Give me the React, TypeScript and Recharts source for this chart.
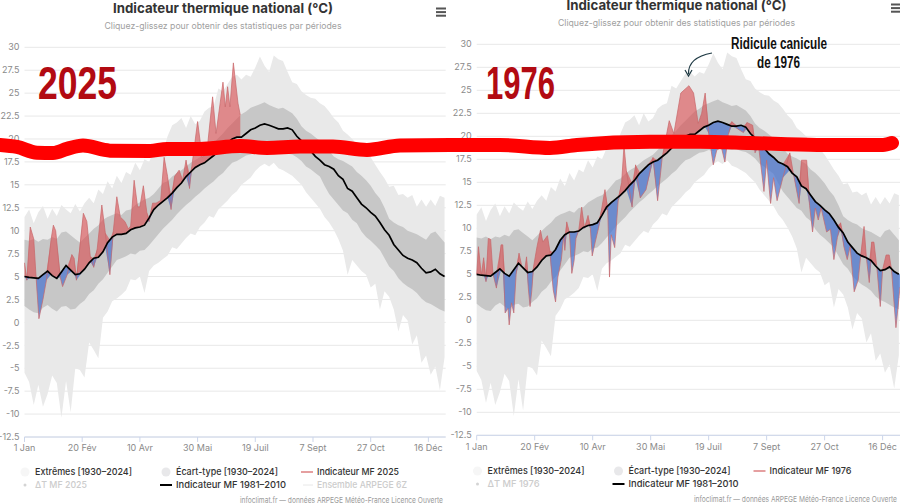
import React from "react";
import { ComposedChart, LineChart, Area, Line, XAxis, YAxis, CartesianGrid } from "recharts";

const bandDays = [0,4,8,12,16,20,24,28,32,36,40,44,48,52,56,60,64,68,72,76,80,84,88,92,96,100,104,108,112,116,120,124,128,132,136,140,144,148,152,156,160,164,168,172,176,180,184,188,192,196,200,204,208,212,216,220,224,228,232,236,240,244,248,252,256,260,264,268,272,276,280,284,288,292,296,300,304,308,312,316,320,324,328,332,336,340,344,348,352,356,360,364];
const extHigh = [11.5,12.3,10.8,12,12.7,11.3,12.4,11.6,12.8,12.3,11.9,12.9,12.1,13,13.6,13,14.5,14,15.4,14.6,16,15.2,16.4,16.1,17.4,16.6,17.8,17.5,18.7,19.2,18.6,20.3,21.5,21.8,22.3,21.2,22.5,21.6,22,23,23.4,23.6,25.5,25.2,26,26.8,27,26.5,27,26.8,27.8,29,28,27.3,29.1,28.7,28.5,27.3,26.2,26,25.2,24.8,24.5,24.4,23.9,23.6,23,22.3,21.8,20.9,20.5,20,19.4,18.9,18.6,18,17.2,16.4,15.7,14.8,14.9,13.9,14,13.6,13.9,12.6,13.4,12.6,13.4,12.7,13.8,13.6];
const extLow = [-5.5,-6.5,-9,-6.8,-9.2,-7.8,-5.8,-6.6,-10.4,-6.4,-9.8,-5,-5.2,-6,-2.2,-3,-3.9,0.5,1.2,2.3,2.6,3,3.5,4.7,4.6,5,3.2,5.6,6.2,6.5,6.9,7.3,8.2,8,8.6,9.2,9.7,9.5,10.4,10.9,11.6,11.4,12.3,12.8,13.3,13.9,14.3,15,15.4,15.8,16.5,17,17.3,17,17.4,16.8,16.6,16.3,16,15.5,15,14.2,13.6,13,12.4,11.5,10.9,10.1,9.1,7.8,5.2,6.8,6.2,5.6,5.2,3.8,4.2,1.4,3.4,2.8,1.4,-1,0.8,0.2,-2.4,-1.4,-4.4,-3.6,-5.7,-4.8,-7.4,-3.8];
const stdHigh = [9,8.9,9.1,8.8,9.1,9,9.3,9.1,9.8,9.9,9.5,9.1,8.7,9.2,9.7,10.2,10.6,11.2,11.5,11.7,11.9,11.7,12.2,12.3,12.8,13.1,13.4,13.6,14,14.6,15.2,15.4,15.9,16.3,16.6,17,17.4,17.7,18,18.5,19,19.6,20.1,20.6,21.2,21.7,22.2,22.7,23,23.4,23.6,23.8,24,23.7,23.5,23.3,23.4,23.1,22.8,22.2,21.4,20.9,20.6,20.2,19.8,19.3,18.7,18.1,17.8,17.6,17.3,17,16.4,16,15.5,14.9,14.1,13.5,12.5,11.3,10.9,10.6,10.4,10,9.8,9.6,9.3,9,9.7,9.9,9.3,8.7];
const stdLow = [1.8,1.4,1.1,1,1.6,1.9,1.5,1.2,1.7,1.8,1.4,1.5,2,2.4,3.1,3.5,4.2,4.7,5.4,6.1,6.8,7,7.2,7.5,7.4,7.8,7.9,8.4,9,9.6,10.2,10.7,11.2,11.8,12.3,12.8,13.2,13.7,14.1,14.6,15,15.4,15.9,16.3,16.9,17.4,17.6,17.9,18.2,18.3,18.5,18.4,18.7,18.5,18.6,18.5,18.6,18.4,18.3,18,17.6,17,16.7,16.3,15.9,14.9,14,13.4,12.8,12.2,11.9,11.2,10.8,9.9,9.3,8.9,8.4,7.9,7,6.1,5.6,4.8,4.3,3.9,3.6,3.2,2.6,2.2,2,1.7,1.4,1.2];
const normal8110 = [5,4.9,4.85,4.8,5.2,5.6,5.1,4.8,5.5,6.2,5.7,5.2,5.3,5.8,6.5,7,7.1,7.7,8.7,9.3,9.6,9.6,9.7,10.1,10.3,10.4,10.6,11.4,12.3,12.8,13.2,13.6,14.1,14.7,15.2,15.9,16.4,16.9,17.2,17.4,17.8,18.2,18.7,19.2,19.6,20,20.2,20.2,20.6,21,21.2,21.5,21.65,21.5,21.3,21.1,21.1,21.2,21,20.3,19.8,19.2,18.7,18.1,17.7,17.2,17,16.7,16,15.6,14.6,14.3,13.6,12.9,12.5,12,11.6,10.9,10.1,9.5,8.5,7.9,7.3,7,6.8,6.5,5.9,5.4,5.5,5.8,5.3,5];

const days2025 = [0,2,5,8,10,12.5,16,19,23,25,27,31,33,37,41,43,45,51,54,57,60,63,67,70,74,77,80,83,87,90,92,95,98,100,103,106,108,111,114,118,121,124,127,130,134,137,140,143,145,150,154,158,163,166,172,174,176,178,181,185,187];
const obs2025 = [6.5,4.6,10.4,9.1,5,0.4,2.5,4.6,9,10.6,10,4.9,3.9,5.2,7.4,7,4.6,11.9,11,7.2,6,8,12.8,9.8,5.2,10,13.7,11.5,11,10.2,10.5,15.5,12.6,12.6,14.9,12,11,13,13,13.3,18,15.9,12.3,15.9,16.6,15.5,17.7,14.6,17,21.9,18,18.5,24.6,20.6,26.2,23.5,25.7,23.5,28.3,23.9,22.6];

const days1976 = [0,1.5,4,6,8,10,12,14,17,21,22.5,24.5,27,28,30,32,34,36.5,39,41.5,43,44.5,46,47.5,49,52,55,57,61,63,66,68,70,73,75,76,77.6,80,82,84,85.6,88,90.5,93,96,98,99.6,102,105,108,110.6,113,114.5,116,119,122,125,127,129,134,137,141,146,152,156,160,166,170,176,183,187,191,194,197,200,204,207,211,214,217,220,225,230,233,238,240,243,247.7,250,253.4,256,259,264,270,273,278,280,284.5,287,289.6,292,294.5,297,301.7,305,308,311,313.8,316.6,319.5,322,325.5,329,331,334,336,338.5,340.5,342.5,345,348,350,353,355.7,357.7,361.5,365];
const obs1976 = [5,8,4.9,6.8,4.2,8.9,8.8,5.1,3.5,8.2,8.2,0.8,1.3,-0.5,1.9,0.8,5,7.3,5.8,5.6,6.9,3.5,1.5,3.2,5.8,8,9.8,8.5,9.2,7.6,3.3,2,4.7,6.6,9.2,7.6,10.7,9.5,5.1,6.5,8.9,9.8,12.3,10,11.4,10,7,8.4,10,12.3,14.2,12,4.7,9.3,7.9,13,15,19,16.3,12.3,16.9,13.3,14.2,17.7,13,17.7,21.7,20.3,24.7,25.5,24.7,21.4,22.5,24.7,20.3,16.9,18.5,18.8,17.2,20.2,21.6,20.8,20.4,21.5,21.2,18.2,19,14,17.4,12.7,15.5,13,15.5,18.2,16,12.7,17.4,17.4,12.5,9.6,12.2,10.9,12.2,9.6,9.9,6.6,9,10.6,8,6.6,8,3.1,4.4,6.9,10.2,6.8,4.1,8.5,8.5,5.8,1.5,5.5,7.1,7.1,5.5,-0.8,3.6];

const xTicks = [0, 50, 100, 150, 200, 250, 300, 350];
const xTickLabels = ["1 Jan", "20 Fév", "10 Avr", "30 Mai", "19 Juil", "7 Sept", "27 Oct", "16 Déc"];
const yTicks = [-12.5, -10, -7.5, -5, -2.5, 0, 2.5, 5, 7.5, 10, 12.5, 15, 17.5, 20, 22.5, 25, 27.5, 30];

const strokePageX = [0, 17, 37, 53, 67, 83, 110, 150, 167, 200, 240, 267, 300, 333, 367, 400, 450, 500, 550, 577, 650, 700, 750, 817, 883, 892];
const strokeTemp = [19.35, 19.13, 18.51, 18.48, 18.92, 19.28, 18.73, 18.7, 18.92, 18.92, 19.24, 19.03, 19.17, 19.17, 18.81, 19.28, 19.35, 19.35, 19.03, 19.35, 19.71, 19.71, 19.57, 19.35, 19.35, 19.57];

const bandRows = bandDays.map((day, i) => ({
  day,
  ext: [extLow[i], extHigh[i]],
  std: [stdLow[i], stdHigh[i]],
  normal: normal8110[i],
}));

function normalAt(day: number) {
  const k = Math.min(Math.floor(day / 4), bandDays.length - 2);
  const t = Math.min((day - bandDays[k]) / 4, 1);
  return normal8110[k] + (normal8110[k + 1] - normal8110[k]) * t;
}

function deltaRows(days: number[], obs: number[]) {
  return days.map((day, i) => {
    const n = normalAt(day);
    return { day, obs: obs[i], warm: [n, Math.max(obs[i], n)], cold: [Math.min(obs[i], n), n] };
  });
}

const FONT = "Inter, Roboto, sans-serif";
const tickStyle = { fill: "#8a8a8a", fontSize: 9, fontFamily: FONT };

function Panel({ left, width, top, bottom, mLeft, mRight, rows }: any) {
  return (
    <div style={{ position: "absolute", left, top: 0, width, height: 504 }}>
      <ComposedChart width={width} height={504} data={bandRows} margin={{ top, bottom, left: mLeft, right: mRight }}>
        <CartesianGrid vertical={false} stroke="#e8e8e8" strokeWidth={1} />
        <XAxis
          dataKey="day"
          type="number"
          domain={[0, 365]}
          ticks={xTicks}
          interval={0}
          tickFormatter={(v: number) => xTickLabels[xTicks.indexOf(v)]}
          tick={tickStyle}
          tickSize={5}
          tickMargin={3}
          stroke="#ccd6eb"
          height={25}
        />
        <YAxis
          type="number"
          domain={[-12.5, 30]}
          ticks={yTicks}
          interval={0}
          tickFormatter={(v: number) => String(v)}
          tick={tickStyle}
          axisLine={false}
          tickLine={false}
          tickMargin={5}
          tickSize={0}
          width={24}
        />
        <Area dataKey="ext" type="linear" fill="#e9e9e9" fillOpacity={1} stroke="none" isAnimationActive={false} dot={false} activeDot={false} />
        <Area dataKey="std" type="linear" fill="#c7c7c7" fillOpacity={1} stroke="none" isAnimationActive={false} dot={false} activeDot={false} />
        <Area data={rows} dataKey="warm" type="linear" fill="#d84a4c" fillOpacity={0.6} stroke="none" isAnimationActive={false} dot={false} activeDot={false} />
        <Area data={rows} dataKey="cold" type="linear" fill="#4a74d0" fillOpacity={0.72} stroke="none" isAnimationActive={false} dot={false} activeDot={false} />
        <Line data={rows} dataKey="obs" type="linear" stroke="#c8666a" strokeOpacity={0.7} strokeWidth={1} dot={false} activeDot={false} isAnimationActive={false} />
        <Line dataKey="normal" type="linear" stroke="#000000" strokeWidth={1.7} dot={false} activeDot={false} isAnimationActive={false} />
      </ComposedChart>
    </div>
  );
}

function Label({ x, y, children, fill = "#333", size = 9.5, weight = 500, anchor = "start", len }: any) {
  return (
    <text x={x} y={y} fill={fill} fontSize={size} fontWeight={weight} fontFamily={FONT} textAnchor={anchor} textLength={len} lengthAdjust="spacingAndGlyphs">
      {children}
    </text>
  );
}

function Decor({ dx, yTitle, yLegend, year, hasEnsemble }: any) {
  const cx = dx === 0 ? 223 : 676.5;
  const y1 = yLegend;
  const y2 = yLegend + 13;
  return (
    <g>
      <Label x={cx} y={yTitle} size={13.5} weight={700} anchor="middle" len={220}>Indicateur thermique national (°C)</Label>
      <Label x={cx} y={yTitle + 16} size={9} weight={400} fill="#a0a0a0" anchor="middle" len={237}>Cliquez-glissez pour obtenir des statistiques par périodes</Label>
      <circle cx={dx + 25} cy={y1 - 3} r={4.5} fill="#f6f6f6" />
      <Label x={dx + 35} y={y1} len={97}>Extrêmes [1930–2024]</Label>
      <circle cx={dx + 166} cy={y1 - 3} r={4.5} fill="#e8e8ea" />
      <Label x={dx + 176} y={y1} len={102}>Écart-type [1930–2024]</Label>
      <line x1={dx + 301} x2={dx + 313} y1={y1 - 3} y2={y1 - 3} stroke="#dc7f80" strokeWidth={1.5} />
      <Label x={dx + 317} y={y1} len={82}>{`Indicateur MF ${year}`}</Label>
      <circle cx={dx + 25} cy={y2 - 3} r={1.5} fill="#d4d4d4" />
      <Label x={dx + 35} y={y2} fill="#cccccc" len={52}>{`ΔT MF ${year}`}</Label>
      <line x1={dx + 160} x2={dx + 172} y1={y2 - 3} y2={y2 - 3} stroke="#000" strokeWidth={2} />
      <Label x={dx + 176} y={y2} len={110}>Indicateur MF 1981–2010</Label>
      {hasEnsemble && <line x1={dx + 303} x2={dx + 313} y1={y2 - 3} y2={y2 - 3} stroke="#e8e8e8" strokeWidth={1} />}
      {hasEnsemble && <Label x={dx + 317} y={y2} fill="#cccccc" len={90}>Ensemble ARPEGE 6Z</Label>}
    </g>
  );
}

function Burger({ x, y, w }: any) {
  return (
    <g fill="#555">
      <rect x={x} y={y} width={w} height={2} />
      <rect x={x} y={y + 3.6} width={w} height={2} />
      <rect x={x} y={y + 7.2} width={w} height={2} />
    </g>
  );
}

const strokeRows = strokePageX.map((x, i) => ({ x, t: strokeTemp[i] }));
const HAND = "'Liberation Sans Narrow', 'Liberation Sans', sans-serif";

export default function App() {
  return (
    <div style={{ position: "absolute", left: 0, top: 0, width: 900, height: 504, overflow: "hidden", background: "#fff" }}>
      <Panel left={0} width={450} top={47.3} bottom={42} mLeft={0.5} mRight={4.3} rows={deltaRows(days2025, obs2025)} />
      <Panel left={450} width={450} top={44.3} bottom={43.7} mLeft={2.7} mRight={0} rows={deltaRows(days1976, obs1976)} />
      <div style={{ position: "absolute", left: 0, top: 0 }}>
        <LineChart width={900} height={504} data={strokeRows} margin={{ top: 47.3, bottom: 67, left: 0, right: 0 }}>
          <XAxis dataKey="x" type="number" domain={[0, 900]} hide />
          <YAxis type="number" domain={[-12.5, 30]} hide />
          <Line dataKey="t" type="monotone" stroke="#ff0000" strokeWidth={14} strokeLinecap="round" dot={false} activeDot={false} isAnimationActive={false} />
        </LineChart>
      </div>
      <svg width={900} height={504} style={{ position: "absolute", left: 0, top: 0 }}>
        <Decor dx={0} yTitle={13} yLegend={475} year="2025" hasEnsemble />
        <Decor dx={452.5} yTitle={10} yLegend={474} year="1976" hasEnsemble={false} />
        <Burger x={436} y={7.5} w={10} />
        <Burger x={891} y={3.5} w={9} />
        <Label x={443} y={502.5} size={8} weight={400} fill="#9a9a9a" anchor="end" len={203}>infoclimat.fr — données ARPEGE Météo-France Licence Ouverte</Label>
        <Label x={897} y={501.5} size={8} weight={400} fill="#9a9a9a" anchor="end" len={203}>infoclimat.fr — données ARPEGE Météo-France Licence Ouverte</Label>
        <text x={38} y={99} fill="#b20a12" fontFamily={HAND} fontWeight={700} fontSize={47} textLength={79} lengthAdjust="spacingAndGlyphs">2025</text>
        <text x={486} y={99} fill="#b20a12" fontFamily={HAND} fontWeight={700} fontSize={47} textLength={69} lengthAdjust="spacingAndGlyphs">1976</text>
        <text x={779} y={49} fill="#111" fontFamily={HAND} fontWeight={700} fontSize={16} textAnchor="middle" textLength={96} lengthAdjust="spacingAndGlyphs">Ridicule canicule</text>
        <text x={778.5} y={68} fill="#111" fontFamily={HAND} fontWeight={700} fontSize={16} textAnchor="middle" textLength={43} lengthAdjust="spacingAndGlyphs">de 1976</text>
        <path d="M712 53 C 701 55, 688 60, 688.5 74" fill="none" stroke="#1f3a44" strokeWidth={1.2} />
        <path d="M685 70 L688.5 76 L692 70" fill="none" stroke="#1f3a44" strokeWidth={1.2} />
      </svg>
    </div>
  );
}
